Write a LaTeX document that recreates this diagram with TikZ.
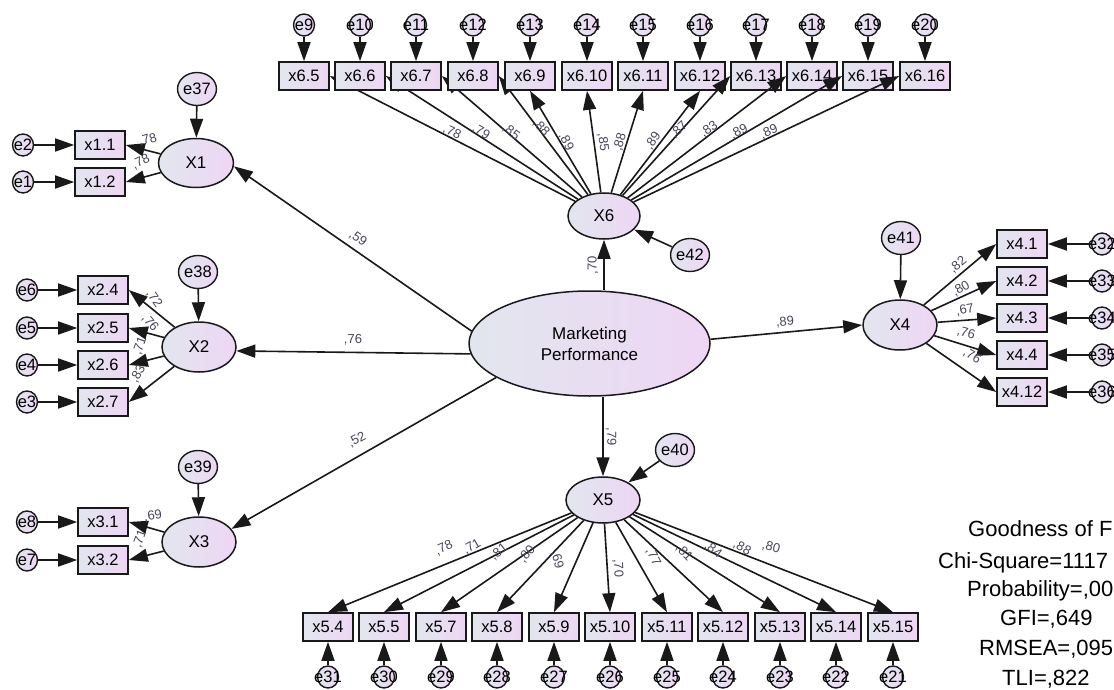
\documentclass[tikz,border=0pt]{standalone}
\usepackage{fontspec}
\setmainfont{Liberation Sans}
\usetikzlibrary{shapes.geometric,arrows.meta,calc}
\definecolor{fL}{RGB}{226,230,238}
\definecolor{fR}{RGB}{238,214,244}
\definecolor{ln}{RGB}{25,25,25}
\definecolor{lb}{RGB}{70,70,88}
\begin{document}
\begin{tikzpicture}[x=1pt,y=-1pt,
 box/.style={draw=ln,line width=1.6pt,rectangle,minimum width=50pt,minimum height=28pt,inner sep=0pt,left color=fL,right color=fR,font=\fontsize{16.5}{18}\selectfont},
 lat/.style={draw=ln,line width=1.5pt,ellipse,inner sep=0pt,left color=fL,right color=fR,font=\fontsize{17}{21}\selectfont},
 errs/.style={draw=ln,line width=1.4pt,ellipse,inner sep=0pt,minimum width=21pt,minimum height=22pt,left color=fL,right color=fR,font=\fontsize{16.5}{18}\selectfont},
 errb/.style={errs,minimum width=33pt,minimum height=33pt},
 arr/.style={draw=ln,line width=1.6pt,-{Triangle[length=19pt,width=13pt]}},
 lab/.style={text=lb,inner sep=0pt,font=\fontsize{13}{14}\selectfont},
 gof/.style={anchor=base west,inner sep=0pt,font=\fontsize{22}{24}\selectfont}]
\useasboundingbox (0,0) rectangle (1114,690);

% latent variables
\node[lat,minimum width=241pt,minimum height=105pt,align=center] (MP) at (589.5,343.5) {Marketing\\Performance};
\node[lat,minimum width=75pt,minimum height=49pt] (X1) at (196,163) {X1};
\node[lat,minimum width=74pt,minimum height=50pt] (X2) at (199,347) {X2};
\node[lat,minimum width=74pt,minimum height=50pt] (X3) at (199,542) {X3};
\node[lat,minimum width=74pt,minimum height=50pt] (X4) at (900,325) {X4};
\node[lat,minimum width=74pt,minimum height=46pt] (X5) at (603,500) {X5};
\node[lat,minimum width=72pt,minimum height=46pt] (X6) at (604,216) {X6};

% disturbances
\node[errb] (e37) at (197,89) {e37};
\node[errb] (e38) at (198,272) {e38};
\node[errb] (e39) at (198,467) {e39};
\node[errb] (e40) at (675,450) {e40};
\node[errb] (e41) at (901,238) {e41};
\node[errb] (e42) at (690,255) {e42};
\draw[arr] (e37) -- (X1);
\draw[arr] (e38) -- (X2);
\draw[arr] (e39) -- (X3);
\draw[arr] (e40) -- (X5);
\draw[arr] (e41) -- (X4);
\draw[arr] (e42) -- (X6);

% structural paths
\draw[arr] (MP.174) -- (X1.-5);
\draw[arr] (MP.185) -- (X2.-6);
\draw[arr] (MP.200) -- (X3.22);
\draw[arr] (MP.2) -- (X4.west);
\coordinate (mpt) at (MP.north -| X6.south);
\coordinate (mpb) at (MP.south -| X5.north);
\draw[arr] (mpt) -- (X6.south);
\draw[arr] (mpb) -- (X5.north);
\node[lab,rotate=-34] (s1) at (358,238) {,59};
\node[lab] (s2) at (353,340) {,76};
\node[lab,rotate=28] (s3) at (357,440) {,52};
\node[lab,rotate=90] (s4) at (593,265) {,70};
\node[lab,rotate=-90] (s5) at (611,437) {,79};
\node[lab,rotate=5] (s6) at (785,322) {,89};

% X1
\foreach \n/\py/\e in {1/145/2,2/182/1}{
 \node[box] (x1-\n) at (100,\py) {x1.\n};
 \node[errs] (e\e) at (23,\py) {\makebox[0pt]{e\e}};
 \draw[arr] (e\e) -- (x1-\n);
 \draw[arr] (X1) -- (x1-\n.east);
}
\node[lab,rotate=15] (l11) at (148,140) {,78};
\node[lab,rotate=25] (l12) at (141,162) {,78};

% X2
\foreach \n/\py/\e in {4/290/6,5/328/5,6/365/4,7/402/3}{
 \node[box] (x2-\n) at (103,\py) {x2.\n};
 \node[errs] (e\e) at (27,\py) {\makebox[0pt]{e\e}};
 \draw[arr] (e\e) -- (x2-\n);
 \draw[arr] (X2) -- (x2-\n.east);
}
\node[lab,rotate=-55] (l21) at (154,299) {,72};
\node[lab,rotate=-50] (l22) at (150,323) {,76};
\node[lab,rotate=70] (l23) at (140,346) {,71};
\node[lab,rotate=60] (l24) at (138,374) {,83};

% X3
\foreach \n/\py/\e in {1/522/8,2/560/7}{
 \node[box] (x3-\n) at (103,\py) {x3.\n};
 \node[errs] (e\e) at (27,\py) {\makebox[0pt]{e\e}};
 \draw[arr] (e\e) -- (x3-\n);
 \draw[arr] (X3) -- (x3-\n.east);
}
\node[lab,rotate=10] (l31) at (153,516) {,69};
\node[lab,rotate=70] (l32) at (140,539) {,71};

% X4
\foreach \n/\py/\e in {1/244/32,2/281/33,3/318/34,4/355/35,12/392/36}{
 \node[box] (x4-\n) at (1022,\py) {x4.\n};
 \node[errs] (e\e) at (1102,\py) {\makebox[0pt]{e\e}};
 \draw[arr] (e\e) -- (x4-\n);
 \draw[arr] (X4) -- (x4-\n.west);
}
\node[lab,rotate=40] (l41) at (958,265) {,82};
\node[lab,rotate=30] (l42) at (961,289) {,80};
\node[lab,rotate=10] (l43) at (965,310) {,67};
\node[lab,rotate=-15] (l44) at (966,333) {,76};
\node[lab,rotate=-30] (l45) at (972,356) {,76};

% X6 (top row)
\foreach \n/\px/\e/\a in {5/304/9/east,6/360/10/east,7/416/11/east,8/473/12/east,9/530/13/south,10/587/14/south,11/643/15/south,12/700/16/south,13/756/17/west,14/812/18/west,15/868/19/west,16/925/20/west}{
 \node[box] (x6-\n) at (\px,76) {x6.\n};
 \node[errs] (e\e) at (\px,25) {\makebox[0pt]{e\e}};
 \draw[arr] (e\e) -- (x6-\n);
 \draw[arr] (X6) -- (x6-\n.\a);
}
\foreach \v/\lx/\ly/\r [count=\i] in {78/452/132/-25,79/481/132/-30,85/511/132/-37,88/541/128/-47,89/566/142/-62,85/603/142/-83,88/620/142/74,89/653/141/56,87/679/130/43,83/709/129/34,89/739/132/28,89/769/132/24}
 \node[lab,rotate=\r] (lt\i) at (\lx,\ly) {,\v};

% X5 (bottom row)
\foreach \n/\px/\e in {4/328/31,5/384/30,7/441/29,8/497/28,9/554/27,10/610/26,11/667/25,12/723/24,13/780/23,14/836/22,15/893/21}{
 \node[box] (x5-\n) at (\px,627) {x5.\n};
 \node[errs] (e\e) at (\px,677) {\makebox[0pt]{e\e}};
 \draw[arr] (e\e) -- (x5-\n);
 \draw[arr] (X5) -- (x5-\n.north);
}
\foreach \v/\lx/\ly/\r [count=\i] in {78/444/548/25,71/472/547/30,81/499/552/38,80/527/554/50,69/557/560/-75,70/618/568/-87,77/653/557/-63,81/684/553/-47,84/713/550/-36,88/742/548/-29,80/771/547/-15}
 \node[lab,rotate=\r] (lb\i) at (\lx,\ly) {,\v};

% goodness of fit
\node[gof] (g1) at (968,536) {Goodness of F};
\node[gof] (g2) at (938,568) {Chi-Square=1117};
\node[gof] (g3) at (967,596) {Probability=,00};
\node[gof] (g4) at (1000,625) {GFI=,649};
\node[gof] (g5) at (979,655) {RMSEA=,095};
\node[gof] (g6) at (1002,685) {TLI=,822};
\end{tikzpicture}
\end{document}
